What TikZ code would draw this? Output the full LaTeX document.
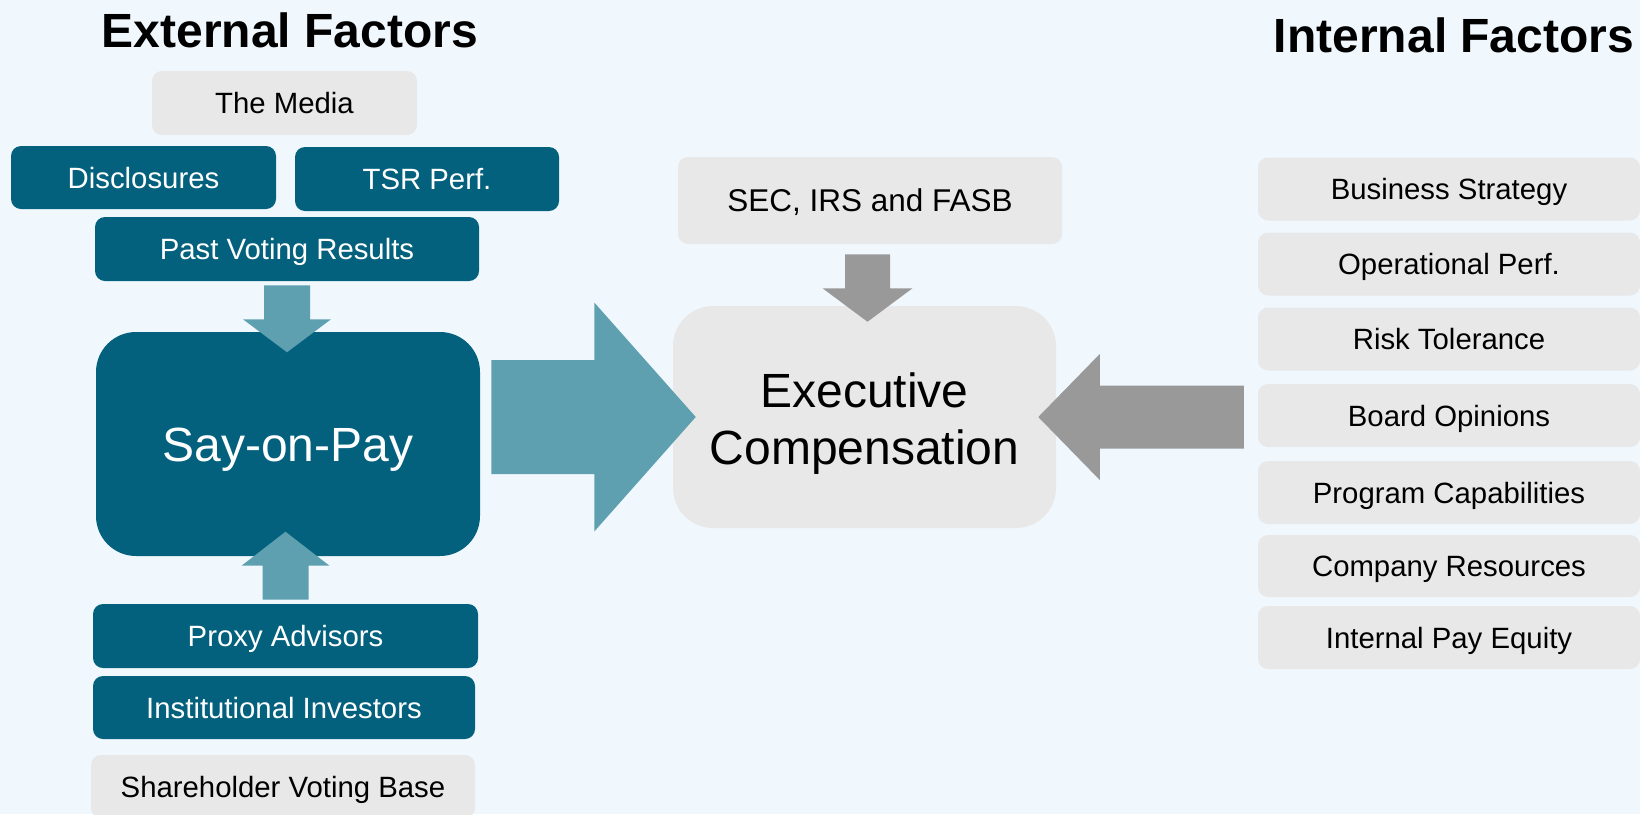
\documentclass[tikz,border=0pt]{standalone}
\usepackage{fontspec}
\setmainfont{Liberation Sans}
\usetikzlibrary{calc}
\definecolor{bgc}{RGB}{240,248,254}
\definecolor{tealdark}{RGB}{3,97,126}
\definecolor{teallight}{RGB}{94,160,176}
\definecolor{boxgray}{RGB}{232,232,232}
\definecolor{arrowgray}{RGB}{153,153,153}
\begin{document}
\begin{tikzpicture}[x=0.75pt,y=-0.75pt,
  base/.style={rectangle, inner sep=0pt, rounded corners=7.5pt},
  sz/.style 2 args={minimum width=#1*0.75pt, minimum height=#2*0.75pt},
  graybox/.style={base, fill=boxgray, text=black, font=\fontsize{22}{26}\selectfont, text height=15.8pt, text depth=0pt},
  tealbox/.style={base, fill=tealdark, text=white, font=\fontsize{22}{26}\selectfont, text height=15.8pt, text depth=0pt},
  bigbox/.style={base, rounded corners=30pt},
  titletext/.style={font=\fontsize{36}{43}\selectfont\bfseries, anchor=base, inner sep=0pt},
  tealarrow/.style={fill=teallight},
  grayarrow/.style={fill=arrowgray}
]
\fill[bgc] (0,0) rectangle (1640,814);
\useasboundingbox (0,0) rectangle (1640,814);

% titles
\node[titletext] (ext) at (290,47) {External Factors};
\node[titletext] (int) at (1454,52) {Internal Factors};

% left column
\node[graybox, sz={265}{64}] (media) at (284.5,103) {The Media};
\node[tealbox, sz={265}{63}] (discl) at (143.5,177.5) {Disclosures};
\node[tealbox, sz={264}{64}] (tsr) at (427,179) {TSR Perf.};
\node[tealbox, sz={384}{64}] (past) at (287,249) {Past Voting Results};
\node[bigbox, fill=tealdark, text=white, sz={384}{224}, font=\fontsize{36}{43}\selectfont, text height=25.8pt, text depth=0pt] (say) at (288,444) {Say-on-Pay};
\node[tealbox, sz={385}{64}] (proxy) at (285.5,636) {Proxy Advisors};
\node[tealbox, sz={382}{63}] (inst) at (284,707.5) {Institutional Investors};
\node[graybox, sz={384}{63}] (share) at (283,786.5) {Shareholder Voting Base};

% centre
\node[graybox, sz={384}{87}, font=\fontsize{23.6}{28}\selectfont, text height=16.9pt] (sec) at (870,200.5) {SEC, IRS and FASB};
\node[bigbox, fill=boxgray, sz={383}{222},
  label={[font=\fontsize{36}{42.75}\selectfont, text=black, align=center, inner sep=0pt, yshift=-5pt]center:{Executive\\Compensation}}] (exec) at (864.5,417) {};

% right column
\node[graybox, sz={382}{63}] (business) at (1449,189) {Business Strategy};
\node[graybox, sz={382}{63}] (operational) at (1449,264) {Operational Perf.};
\node[graybox, sz={382}{63}] (risk) at (1449,339) {Risk Tolerance};
\node[graybox, sz={382}{63}] (board) at (1449,415.5) {Board Opinions};
\node[graybox, sz={382}{63}] (program) at (1449,492.5) {Program Capabilities};
\node[graybox, sz={382}{62}] (company) at (1449,566) {Company Resources};
\node[graybox, sz={382}{63}] (internal) at (1449,637.5) {Internal Pay Equity};

% arrows
\fill[tealarrow] ($(past.south)+(-23,4)$) -- ++(46,0) -- ++(0,34) -- ++(21,0)
  -- ($(past.south)+(0,71)$) -- ++(-44,-33) -- ++(21,0) -- cycle;
\fill[tealarrow] ($(proxy.north)+(-23,-4)$) -- ++(46,0) -- ++(0,-34) -- ++(21,0)
  -- ($(proxy.north)+(0,-72)$) -- ++(-44,34) -- ++(21,0) -- cycle;

\coordinate (bigstart) at (say.east |- exec.west);
\fill[tealarrow] ($(bigstart)+(11,-57)$) -- ($(bigstart)+(114,-57)$) -- ($(bigstart)+(114,-114.5)$)
  -- ($(exec.west)+(23,0)$) -- ($(bigstart)+(114,114.5)$) -- ($(bigstart)+(114,57)$)
  -- ($(bigstart)+(11,57)$) -- cycle;

\coordinate (secA) at ($(sec.south)+(-2.5,0)$);
\fill[grayarrow] ($(secA)+(-22.5,10)$) -- ++(45,0) -- ++(0,34) -- ++(22.5,0)
  -- ($(secA |- exec.north)+(0,16)$) -- ($(secA)+(-45,44)$) -- ++(22.5,0) -- cycle;

\coordinate (gstart) at (board.west |- exec.east);
\fill[grayarrow] ($(gstart)+(-14,-31.5)$) -- ($(gstart)+(-158,-31.5)$) -- ($(gstart)+(-158,-63)$)
  -- ($(exec.east)+(-18,0)$) -- ($(gstart)+(-158,63)$) -- ($(gstart)+(-158,31.5)$)
  -- ($(gstart)+(-14,31.5)$) -- cycle;
\end{tikzpicture}
\end{document}
